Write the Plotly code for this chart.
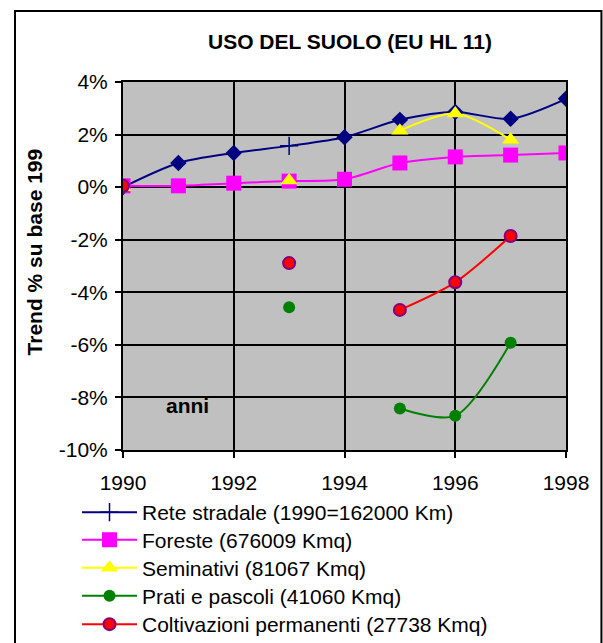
import plotly.graph_objects as go

years = [1990, 1991, 1992, 1993, 1994, 1995, 1996, 1997, 1998]
rete = [0.0, 0.92, 1.3, 1.57, 1.9, 2.56, 2.86, 2.6, 3.36]
rete_symbols = ["diamond", "diamond", "diamond", "cross-thin", "diamond",
                "diamond", "diamond", "diamond", "diamond"]
foreste = [0.05, 0.05, 0.15, 0.23, 0.3, 0.92, 1.15, 1.22, 1.3]
seminativi = [0.0, None, None, 0.25, None, 2.15, 2.8, 1.8, None]
prati = [0.0, None, None, -4.57, None, -8.42, -8.7, -5.92, None]
coltivazioni = [0.05, None, None, -2.89, None, -4.67, -3.62, -1.86, None]

names = ["Rete stradale (1990=162000 Km)", "Foreste (676009 Kmq)",
         "Seminativi (81067 Kmq)", "Prati e pascoli (41060 Kmq)",
         "Coltivazioni permanenti (27738 Kmq)"]
y_ticks = [4, 2, 0, -2, -4, -6, -8, -10]
x_ticks = [1990, 1992, 1994, 1996, 1998]

FONT = "Arial, Liberation Sans, sans-serif"
NAVY = "#000080"
FS = 21

fig = go.Figure()
fig.add_trace(go.Scatter(
    x=years, y=rete, mode="lines+markers", showlegend=False,
    line=dict(color=NAVY, width=2, shape="spline", smoothing=0.8),
    marker=dict(symbol=rete_symbols, size=[11, 11, 11, 13, 11, 11, 11, 11, 11],
                color=NAVY, opacity=1, line=dict(color=NAVY, width=1.5)),
))
fig.add_trace(go.Scatter(
    x=[None], y=[None], mode="lines+markers", name=names[0], legend="legend",
    line=dict(color=NAVY, width=2),
    marker=dict(symbol="cross-thin", size=13, color=NAVY, line=dict(color=NAVY, width=1.5)),
))
fig.add_trace(go.Scatter(
    x=years, y=foreste, mode="lines+markers", name=names[1], legend="legend2",
    line=dict(color="#FF00FF", width=2, shape="spline", smoothing=0.8),
    marker=dict(symbol="square", size=15, color="#FF00FF", opacity=1),
))
fig.add_trace(go.Scatter(
    x=years, y=seminativi, mode="lines+markers", name=names[2], legend="legend3",
    connectgaps=False,
    line=dict(color="#FFFF00", width=2, shape="spline", smoothing=0.8),
    marker=dict(symbol="triangle-up", size=15, color="#FFFF00", opacity=1),
))
fig.add_trace(go.Scatter(
    x=years, y=prati, mode="lines+markers", name=names[3], legend="legend4",
    connectgaps=False,
    line=dict(color="#008000", width=2, shape="spline", smoothing=0.8),
    marker=dict(symbol="circle", size=12, color="#008000", opacity=1),
))
fig.add_trace(go.Scatter(
    x=years, y=coltivazioni, mode="lines+markers", name=names[4], legend="legend5",
    connectgaps=False,
    line=dict(color="#FF0000", width=2, shape="spline", smoothing=0.8),
    marker=dict(symbol="circle", size=12, color="#FF0000", opacity=1,
                line=dict(color="#800080", width=2)),
))

# legend row centers (px from top) -> paper coords
row_px = [512.5, 540.0, 568.0, 596.0, 624.5]
PLOT_BOTTOM, PLOT_H = 450.0, 368.0
legends = {}
for i, yp in enumerate(row_px):
    key = "legend" if i == 0 else f"legend{i + 1}"
    legends[key] = dict(x=-0.1038, y=(PLOT_BOTTOM - yp) / PLOT_H,
                        xanchor="left", yanchor="middle",
                        bgcolor="rgba(0,0,0,0)", font=dict(size=FS, family=FONT),
                        itemwidth=55)

fig.update_layout(
    width=603, height=643,
    margin=dict(l=123, r=37, t=82, b=193, autoexpand=False),
    paper_bgcolor="white", plot_bgcolor="#C0C0C0",
    font=dict(family=FONT, size=FS, color="black"),
    showlegend=True,
    **legends,
    xaxis=dict(range=[1990, 1998], tickvals=x_ticks, ticktext=[str(v) for v in x_ticks],
               showgrid=True, gridcolor="black", gridwidth=1.5,
               showline=True, linecolor="black", linewidth=2, mirror=True,
               ticks="outside", ticklen=6, tickcolor="black", tickwidth=1.5,
               ticklabelstandoff=7,
               zeroline=False, tickfont=dict(size=FS)),
    yaxis=dict(range=[-10, 4], tickvals=y_ticks, ticktext=[f"{v}%" for v in y_ticks],
               showgrid=True, gridcolor="black", gridwidth=1.5,
               showline=True, linecolor="black", linewidth=2, mirror=True,
               ticks="outside", ticklen=6, tickcolor="black", tickwidth=1.5,
               ticklabelstandoff=3,
               zeroline=False, tickfont=dict(size=FS)),
    annotations=[
        dict(text="<b>USO DEL SUOLO (EU HL 11)</b>", xref="paper", yref="paper",
             x=0.512, y=1.109, showarrow=False, font=dict(size=FS, family=FONT),
             xanchor="center", yanchor="middle"),
        dict(text="<b>Trend % su base 199</b>", xref="paper", yref="paper",
             x=-0.2, y=0.538, showarrow=False, textangle=-90,
             font=dict(size=FS, family=FONT), xanchor="center", yanchor="middle"),
        dict(text="<b>anni</b>", xref="x", yref="y", x=1991.16, y=-8.3,
             showarrow=False, font=dict(size=FS, family=FONT),
             xanchor="center", yanchor="middle"),
    ],
    shapes=[
        dict(type="rect", xref="paper", yref="paper", x0=-0.2438, x1=1.08,
             y0=-0.6, y1=1.193, line=dict(color="black", width=2),
             fillcolor="rgba(0,0,0,0)", layer="below"),
    ],
)

fig.write_html("out.html", config={"displayModeBar": False},
               post_script="document.body.style.margin='0';document.body.style.overflow='hidden';")
